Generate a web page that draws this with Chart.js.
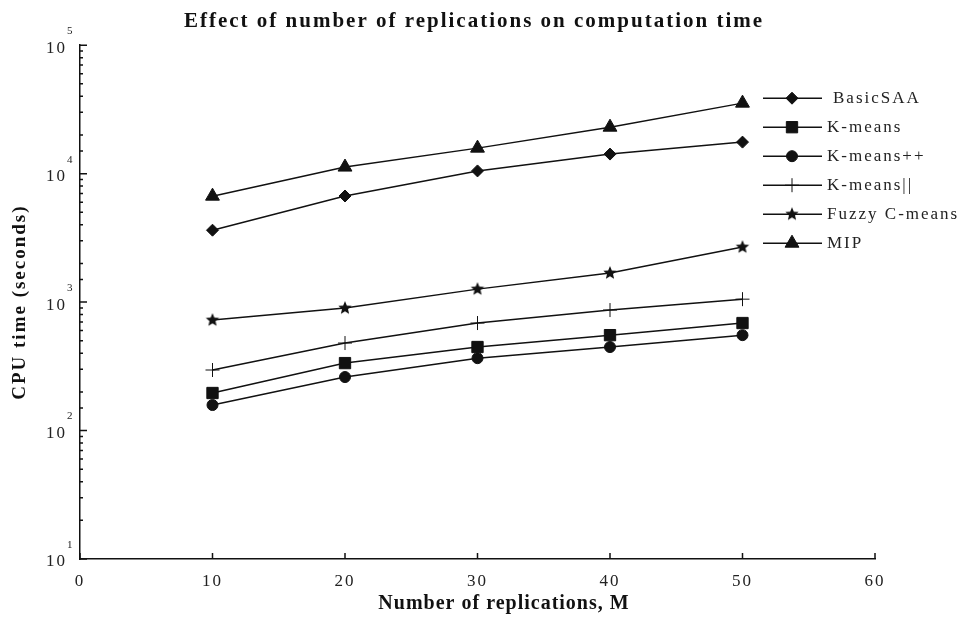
<!DOCTYPE html>
<html>
<head>
<meta charset="utf-8">
<script src="https://cdn.jsdelivr.net/npm/chart.js@4.4.0/dist/chart.umd.min.js"></script>
<style>
  body { margin: 0; background: #fff; }
  #wrap { width: 964px; height: 617px; }
</style>
</head>
<body>
<div id="wrap"><canvas id="myChart"></canvas></div>
<script>
var replications = [10, 20, 30, 40, 50];
var basicSAA = [3630, 6700, 10500, 14200, 17600];
var kMeans = [196, 335, 447, 553, 687];
var kMeansPP = [158, 261, 366, 447, 553];
var kMeansPar = [296, 480, 687, 867, 1054];
var fuzzyCMeans = [724, 898, 1262, 1683, 2680];
var mip = [6680, 11250, 15800, 23000, 35400];
var seriesNames = ['BasicSAA', 'K-means', 'K-means++', 'K-means||', 'Fuzzy C-means', 'MIP'];
var yDecades = [10, 100, 1000, 10000, 100000];
var xTitle = 'Number of replications, M';

var ink = '#111';
var serif = '"Liberation Serif", "Times New Roman", serif';

// filled five point star for the Fuzzy C-means marker
function makeStar(r) {
  var c = document.createElement('canvas');
  c.width = c.height = r * 2 + 2;
  var g = c.getContext('2d');
  g.fillStyle = ink;
  g.beginPath();
  for (var i = 0; i < 10; i++) {
    var rad = i % 2 ? r * 0.45 : r;
    var a = -Math.PI / 2 + i * Math.PI / 5;
    g.lineTo(c.width / 2 + rad * Math.cos(a), c.height / 2 + rad * Math.sin(a));
  }
  g.closePath();
  g.fill();
  return c;
}

function series(name, values, style, radius) {
  return {
    label: name,
    data: values.map(function (v, i) { return { x: replications[i], y: v }; }),
    borderColor: ink,
    borderWidth: 1.5,
    pointStyle: style,
    pointRadius: radius,
    pointHoverRadius: radius,
    pointBackgroundColor: ink,
    pointBorderColor: ink,
    pointBorderWidth: 1,
    fill: false,
    tension: 0
  };
}

var datasets = [
  series(seriesNames[0], basicSAA, 'rectRot', 6),
  series(seriesNames[1], kMeans, 'rect', 8),
  series(seriesNames[2], kMeansPP, 'circle', 5.5),
  series(seriesNames[3], kMeansPar, 'cross', 7),
  series(seriesNames[4], fuzzyCMeans, makeStar(7), 7),
  series(seriesNames[5], mip, 'triangle', 8)
];

function isDecade(v) {
  var l = Math.log10(v);
  return Math.abs(l - Math.round(l)) < 1e-9;
}

var axisDecor = {
  id: 'axisDecor',
  beforeLayout: function (chart) { chart.ctx.letterSpacing = '2px'; },
  beforeDraw: function (chart) { chart.ctx.letterSpacing = '2px'; },
  afterDraw: function (chart) {
    var ctx = chart.ctx, xs = chart.scales.x, ys = chart.scales.y, area = chart.chartArea;
    ctx.save();
    ctx.strokeStyle = ink;
    ctx.lineWidth = 1.5;
    ctx.beginPath();
    xs.ticks.forEach(function (t) {
      var px = xs.getPixelForValue(t.value);
      ctx.moveTo(px, area.bottom);
      ctx.lineTo(px, area.bottom - 6);
    });
    ys.ticks.forEach(function (t) {
      var py = ys.getPixelForValue(t.value);
      ctx.moveTo(area.left, py);
      ctx.lineTo(area.left + (isDecade(t.value) ? 7 : 3), py);
    });
    ctx.stroke();

    // y decade labels with raised exponents
    ctx.fillStyle = '#222';
    yDecades.forEach(function (v) {
      var py = ys.getPixelForValue(v);
      ctx.font = '17px ' + serif;
      ctx.textAlign = 'right';
      ctx.textBaseline = 'middle';
      ctx.fillText('10', area.left - 13, py + 3);
      ctx.font = '11px ' + serif;
      ctx.textAlign = 'left';
      ctx.fillText(String(Math.round(Math.log10(v))), area.left - 13, py - 14);
    });

    // x axis title, sitting a little right of centre as in the original
    ctx.fillStyle = ink;
    ctx.font = 'bold 20px ' + serif;
    ctx.letterSpacing = '1px';
    ctx.textAlign = 'center';
    ctx.textBaseline = 'middle';
    ctx.fillText(xTitle, xs.getPixelForValue(32), area.bottom + 45);
    ctx.letterSpacing = '2px';

    // legend in the top right corner
    var x0 = area.right - 112, x1 = area.right - 53, xm = area.right - 83;
    ctx.font = '17px ' + serif;
    ctx.textAlign = 'left';
    ctx.textBaseline = 'middle';
    chart.data.datasets.forEach(function (ds, i) {
      var y = area.top + 53 + i * 29;
      ctx.lineWidth = 1.5;
      ctx.strokeStyle = ink;
      ctx.beginPath();
      ctx.moveTo(x0, y);
      ctx.lineTo(x1, y);
      ctx.stroke();
      ctx.fillStyle = ink;
      ctx.lineWidth = 1;
      Chart.helpers.drawPoint(ctx, {
        pointStyle: ds.pointStyle, radius: ds.pointRadius, rotation: 0, borderWidth: 1
      }, xm, y);
      ctx.fillStyle = '#222';
      ctx.fillText(ds.label, area.right - 48 + (i === 0 ? 6 : 0), y);
    });
    ctx.restore();
  }
};

var ctx = document.getElementById('myChart').getContext('2d');
var myChart = new Chart(ctx, {
  type: 'line',
  data: { datasets: datasets },
  plugins: [axisDecor],
  options: {
    responsive: true,
    maintainAspectRatio: false,
    animation: false,
    layout: { padding: { top: 0, right: 16, bottom: 0, left: 0 } },
    plugins: {
      legend: { display: false },
      tooltip: { enabled: false },
      title: {
        display: true,
        text: 'Effect of number of replications on computation time',
        color: ink,
        font: { family: serif, size: 21, weight: 'bold' },
        padding: { top: 9, bottom: 11 }
      }
    },
    scales: {
      x: {
        type: 'linear',
        min: 0,
        max: 60,
        ticks: { stepSize: 10, color: '#222', font: { family: serif, size: 17 }, padding: 12 },
        grid: { display: false, drawTicks: false },
        border: { display: true, color: ink, width: 1.5 },
        title: { display: false },
        afterFit: function (s) { s.height = 58; }
      },
      y: {
        type: 'logarithmic',
        min: 10,
        max: 100000,
        ticks: { display: false, autoSkip: false },
        grid: { display: false, drawTicks: false },
        border: { display: true, color: ink, width: 1.5 },
        title: {
          display: true,
          text: 'CPU time (seconds)',
          color: ink,
          font: { family: serif, size: 19, weight: 'bold' },
          padding: { top: 9, bottom: 0 }
        },
        afterFit: function (s) { s.width = 80; }
      },
      // empty right-hand gutter that holds the legend
      gutter: {
        type: 'linear',
        position: 'right',
        display: true,
        ticks: { display: false },
        grid: { display: false, drawTicks: false },
        border: { display: false },
        afterFit: function (s) { s.width = 73; }
      }
    }
  }
});
</script>
</body>
</html>
